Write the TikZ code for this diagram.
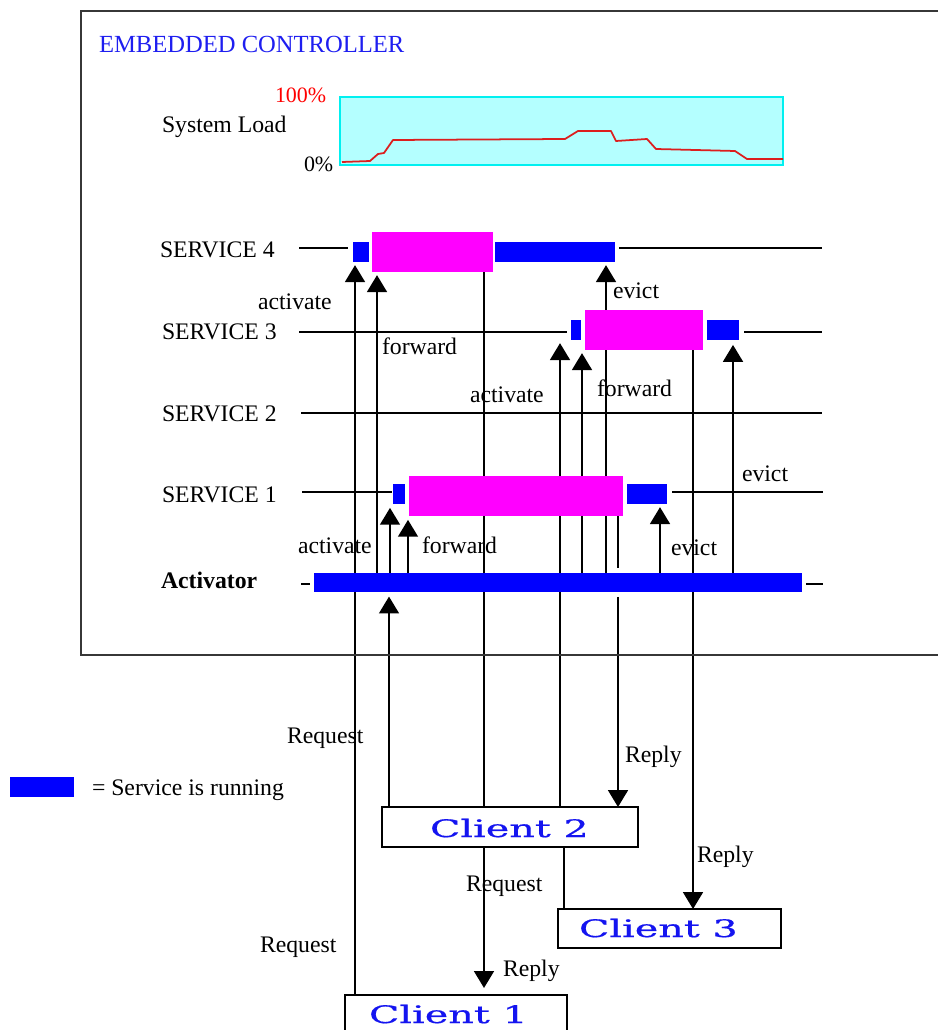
\documentclass[tikz,border=0pt]{standalone}
\usepackage{fontspec}
\setmainfont{Liberation Serif}
\newfontfamily\clientfont[FakeStretch=1.65,FakeBold=0.6]{DejaVu Serif}
\usetikzlibrary{arrows.meta}
\definecolor{runblue}{RGB}{0,0,255}
\definecolor{busymag}{RGB}{255,0,255}
\definecolor{loadfill}{RGB}{180,255,255}
\definecolor{loadedge}{RGB}{0,240,240}
\definecolor{loadred}{RGB}{220,30,30}
\definecolor{titleblue}{RGB}{30,30,240}
\definecolor{clientblue}{RGB}{20,20,240}
\definecolor{framegray}{RGB}{55,55,55}
\pgfdeclarelayer{bg}
\pgfsetlayers{bg,main}
\begin{document}
\begin{tikzpicture}[x=0.02cm,y=-0.02cm,
  every node/.style={inner sep=0pt, outer sep=0pt},
  sz/.style 2 args={minimum width=#1*0.02cm, minimum height=#2*0.02cm},
  lbl/.style={anchor=base west, font=\fontsize{13.5}{16}\selectfont},
  conn/.style={line width=1.1pt, black},
  arr/.style={conn, -{Triangle[width=11.3pt,length=9.6pt]}},
  up/.style={arr, shorten >=1.8pt},
  tl/.style={line width=1.1pt, black},
  runbar/.style={fill=runblue},
  busybar/.style={fill=busymag},
  clientbox/.style={draw, line width=1.1pt, fill=white},
  clienttext/.style={anchor=base west, text=clientblue, font=\clientfont\fontsize{13.7}{16}\selectfont},
]
\useasboundingbox (0,0) rectangle (938,1030);

% frame
\draw[framegray, line width=1.2pt] (938,11) -- (81,11) -- (81,655) -- (938,655);

% title and load chart
\node[lbl, text=titleblue, font=\fontsize{14}{16}\selectfont] (title) at (99,53) {EMBEDDED CONTROLLER};
\node[lbl] (loadlbl) at (162,133) {System Load};
\node[lbl, text=red, font=\fontsize{12.5}{15}\selectfont] (hi) at (275,103) {100\%};
\node[lbl, font=\fontsize{12.5}{15}\selectfont] (lo) at (304,172) {0\%};
\node[fill=loadfill, draw=loadedge, line width=1.3pt, sz={443}{68}] (load) at (561.5,131) {};
\draw[loadred, line width=1pt, line join=round]
  (342,162) -- (370,161) -- (378,154) -- (384,153) -- (393,140) -- (565,139)
  -- (578,131) -- (611,131) -- (616,141) -- (647,139) -- (656,149) -- (735,151)
  -- (747,159) -- (783,159);

% lane labels
\node[lbl] (n4) at (160,257) {SERVICE 4};
\node[lbl] (n3) at (162,339) {SERVICE 3};
\node[lbl] (n2) at (162,421) {SERVICE 2};
\node[lbl] (n1) at (162,502) {SERVICE 1};
\node[lbl, font=\fontsize{13.5}{16}\selectfont\bfseries] (na) at (161,588) {Activator};

% timelines
\draw[tl] (299,248) -- (348,248);
\draw[tl] (619,248) -- (822,248);
\draw[tl] (299,332) -- (567,332);
\draw[tl] (744,332) -- (822,332);
\draw[tl] (301,413) -- (822,413);
\draw[tl] (302,492) -- (392,492);
\draw[tl] (672,492) -- (823,492);
\draw[tl] (301,584) -- (310,584);
\draw[tl] (806,584) -- (823,584);

% bars
\node[runbar, sz={16}{20}] (s4a) at (361,252) {};
\node[busybar, sz={121}{40}] (s4b) at (432.5,252) {};
\node[runbar, sz={120}{20}] (s4c) at (555,252) {};
\node[runbar, sz={10}{20}] (s3a) at (576,330) {};
\node[busybar, sz={118}{40}] (s3b) at (644,330) {};
\node[runbar, sz={32}{20}] (s3c) at (723,330) {};
\node[runbar, sz={12}{20}] (s1a) at (399,494) {};
\node[busybar, sz={214}{40}] (s1b) at (516,496) {};
\node[runbar, sz={40}{20}] (s1c) at (647,494) {};
\node[runbar, sz={488}{19}] (act) at (558,582.5) {};

% clients
\node[clientbox, sz={256}{40}] (c2) at (510,827) {};
\node[clientbox, sz={223}{39}] (c3) at (669.5,928.5) {};
\node[clientbox, sz={222}{60}] (c1) at (456,1025) {};
\node[clienttext] (c2t) at (430,837) {Client 2};
\node[clienttext] (c3t) at (579,937) {Client 3};
\node[clienttext] (c1t) at (369,1023) {Client 1};

% legend
\node[runbar, sz={64}{20}] (legend) at (42,787) {};
\node[lbl] (legendt) at (92,795) {= Service is running};

% lanes
\coordinate (lA) at (355,0);
\coordinate (lB) at (377,0);
\coordinate (lC) at (484,0);
\coordinate (lD) at (389,0);
\coordinate (lE) at (390,0);
\coordinate (lF) at (408,0);
\coordinate (lG) at (560,0);
\coordinate (lH) at (582,0);
\coordinate (lI) at (606,0);
\coordinate (lJ) at (618,0);
\coordinate (lK) at (660,0);
\coordinate (lL) at (693,0);
\coordinate (lM) at (733,0);
\coordinate (lN) at (564,0);

\begin{pgfonlayer}{bg}
\draw[up] (c1.north -| lA) -- (s4a.south -| lA);
\draw[up] (act.north -| lB) -- (s4b.south -| lB);
\draw[arr, shorten >=4pt] (s4b.south -| lC) -- (c1.north -| lC);
\draw[up, shorten >=2.6pt] (c2.north -| lD) -- (act.south -| lD);
\draw[up, shorten >=2.2pt] (act.north -| lE) -- (s1a.south -| lE);
\draw[up, shorten >=2.2pt] (act.north -| lF) -- (s1b.south -| lF);
\draw[up] (c2.north -| lG) -- (s3a.south -| lG);
\draw[up] (act.north -| lH) -- (s3b.south -| lH);
\draw[up] (act.north -| lI) -- (s4c.south -| lI);
\draw[conn, shorten >=2.8pt] (s1b.south -| lJ) -- (act.north -| lJ);
\draw[arr, shorten <=2.8pt] (act.south -| lJ) -- (c2.north -| lJ);
\draw[up] (act.north -| lK) -- (s1c.south -| lK);
\draw[arr] (s3b.south -| lL) -- (c3.north -| lL);
\draw[up, shorten >=2.8pt] (act.north -| lM) -- (s3c.south -| lM);
\draw[conn] (c2.south -| lN) -- (c3.north -| lN);
\end{pgfonlayer}

% connector labels
\node[lbl] at (258,310) {activate};
\node[lbl] at (382,354) {forward};
\node[lbl] at (470,402) {activate};
\node[lbl] at (613,298) {evict};
\node[lbl] at (597,396) {forward};
\node[lbl] at (742,481) {evict};
\node[lbl] at (298,553) {activate};
\node[lbl] at (422,553) {forward};
\node[lbl] at (671,555) {evict};
\node[lbl] at (287,743) {Request};
\node[lbl] at (625,762) {Reply};
\node[lbl] at (697,862) {Reply};
\node[lbl] at (466,891) {Request};
\node[lbl] at (260,952) {Request};
\node[lbl] at (503,976) {Reply};
\end{tikzpicture}
\end{document}
